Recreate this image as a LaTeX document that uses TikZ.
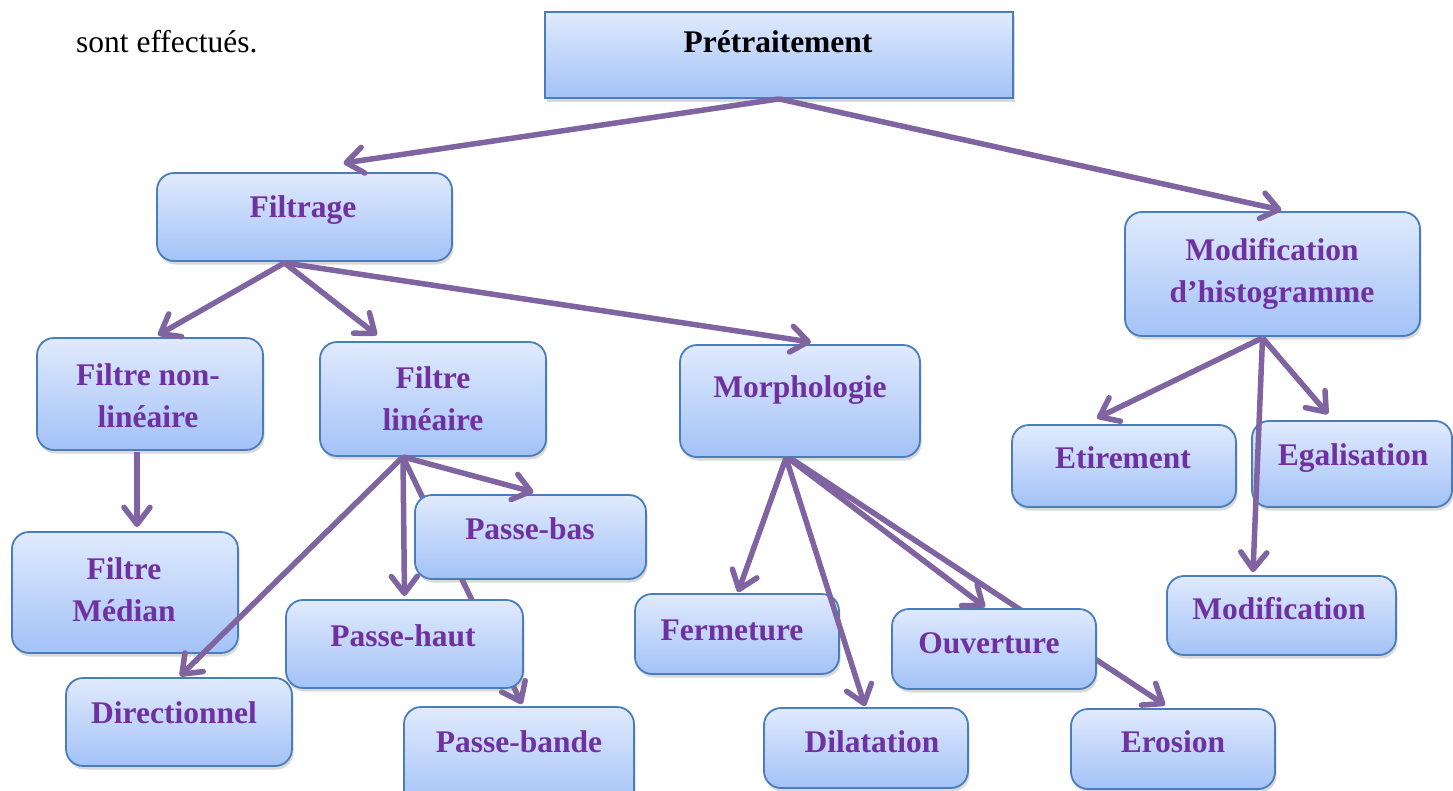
\documentclass[tikz,border=0pt]{standalone}
\usepackage{fontspec}
\setmainfont{Liberation Serif}
\usetikzlibrary{arrows.meta,shadows,fit,calc,backgrounds}
\definecolor{txtp}{RGB}{112,48,160}
\definecolor{arr}{RGB}{128,100,162}
\definecolor{bord}{RGB}{74,126,187}
\definecolor{ftop}{RGB}{224,234,253}
\definecolor{fbot}{RGB}{163,194,247}
\begin{document}
\begin{tikzpicture}[x=1pt,y=-1pt,
  boxbase/.style={draw=bord, line width=1.8pt, top color=ftop, bottom color=fbot, inner sep=0pt,
    drop shadow={shadow xshift=1.5pt, shadow yshift=-3.5pt, opacity=0.3}},
  rbox/.style={boxbase, rounded corners=17pt},
  sbox/.style={boxbase},
  lbl/.style={anchor=base, text=txtp, font=\fontsize{31.5}{42}\selectfont\bfseries, align=center, inner sep=0pt},
  conn/.style={draw=arr, line width=5.5pt, -{Straight Barb[length=17pt,width=26pt,round]}}
]
\useasboundingbox (0,0) rectangle (1453,790);

% boxes
\node[sbox, fit={(545,12) (1013,98)}] (pre) {};
\node[rbox, fit={(157,173) (452,261)}] (fil) {};
\node[rbox, fit={(1125,212) (1420,336)}] (hist) {};
\node[rbox, fit={(37,338) (263,450)}] (nlin) {};
\node[rbox, fit={(320,342) (546,456)}] (lin) {};
\node[rbox, fit={(680,345) (920,457)}] (morph) {};
\node[rbox, fit={(1012,425) (1236,507)}] (eti) {};
\node[rbox, fit={(1252,421) (1452,507)}] (ega) {};
\node[rbox, fit={(12,532) (238,653)}] (med) {};
\node[rbox, fit={(415,495) (646,579)}] (bas) {};
\node[rbox, fit={(286,600) (523,688)}] (haut) {};
\node[rbox, fit={(635,594) (839,674)}] (ferm) {};
\node[rbox, fit={(892,609) (1096,689)}] (ouv) {};
\node[rbox, fit={(1167,576) (1396,655)}] (mod) {};
\node[rbox, fit={(66,678) (292,766)}] (dir) {};
\node[rbox, fit={(404,707) (634,808)}] (bande) {};
\node[rbox, fit={(764,708) (968,788)}] (dil) {};
\node[rbox, fit={(1071,709) (1275,789)}] (ero) {};

% texts (base anchor = baseline of the last line)
\node[anchor=base west, inner sep=0pt, font=\fontsize{31.5}{42}\selectfont] (intro) at (76,52) {sont effectués.};
\node[lbl, text=black] (preT) at (778,52) {Prétraitement};
\node[lbl] (filT) at (303,217) {Filtrage};
\node[lbl] (histT) at (1272,302) {Modification\\d’histogramme};
\node[lbl] (nlinT) at (148,427) {Filtre non-\\linéaire};
\node[lbl] (linT) at (433,430) {Filtre\\linéaire};
\node[lbl] (morphT) at (800,397) {Morphologie};
\node[lbl] (etiT) at (1123,468) {Etirement};
\node[lbl] (egaT) at (1353,465) {Egalisation};
\node[lbl] (medT) at (124,621) {Filtre\\Médian};
\node[lbl] (basT) at (530,539) {Passe-bas};
\node[lbl] (hautT) at (403,646) {Passe-haut};
\node[lbl] (fermT) at (732,640) {Fermeture};
\node[lbl] (ouvT) at (989,653) {Ouverture};
\node[lbl] (modT) at (1279,619) {Modification};
\node[lbl] (dirT) at (174,723) {Directionnel};
\node[lbl] (bandeT) at (519,752) {Passe-bande};
\node[lbl] (dilT) at (872,752) {Dilatation};
\node[lbl] (eroT) at (1173,752) {Erosion};

% connectors hidden behind boxes
\begin{pgfonlayer}{background}
\draw[conn] ($(lin.south)+(-30,0)$) -- ($(bande.north)+(3,-2)$);
\draw[conn] ($(morph.south)+(-10,0)$) -- ($(ero.north)+(-8,-3)$);
\end{pgfonlayer}

% connectors on top
\draw[conn] (pre.south) -- ($(fil.north)+(39,-9)$);
\draw[conn] (pre.south) -- ($(hist.north)+(9,-1)$);
\draw[conn] ($(fil.south)+(-20,1)$) -- ($(nlin.north)+(8,-2)$);
\draw[conn] ($(fil.south)+(-20,1)$) -- ($(lin.north)+(-56,-6)$);
\draw[conn] ($(fil.south)+(-20,1)$) -- ($(morph.north)+(11,-2)$);
\draw[conn] ($(nlin.south)+(-13,1)$) -- ($(med.north)+(12,-4)$);
\draw[conn] ($(lin.south)+(-30,0)$) -- ($(dir.north)+(1,-1)$);
\draw[conn] ($(lin.south)+(-30,0)$) -- ($(haut.north)+(0,-3)$);
\draw[conn] ($(lin.south)+(-30,0)$) -- ($(bas.north)+(3,-2)$);
\draw[conn] ($(morph.south)+(-14,0)$) -- ($(ferm.north)+(1,-1)$);
\draw[conn] ($(morph.south)+(-14,0)$) -- ($(dil.north)+(-1,-1)$);
\draw[conn] ($(morph.south)+(-12,0)$) -- ($(ouv.north)+(-9,-1)$);
\draw[conn] ($(hist.south)+(-10,1)$) -- ($(eti.north)+(-27,-6)$);
\draw[conn] ($(hist.south)+(-10,1)$) -- ($(ega.north)+(-24,-6)$);
\draw[conn] ($(hist.south)+(-10,1)$) -- ($(mod.north)+(-28.5,-3)$);
\end{tikzpicture}
\end{document}
